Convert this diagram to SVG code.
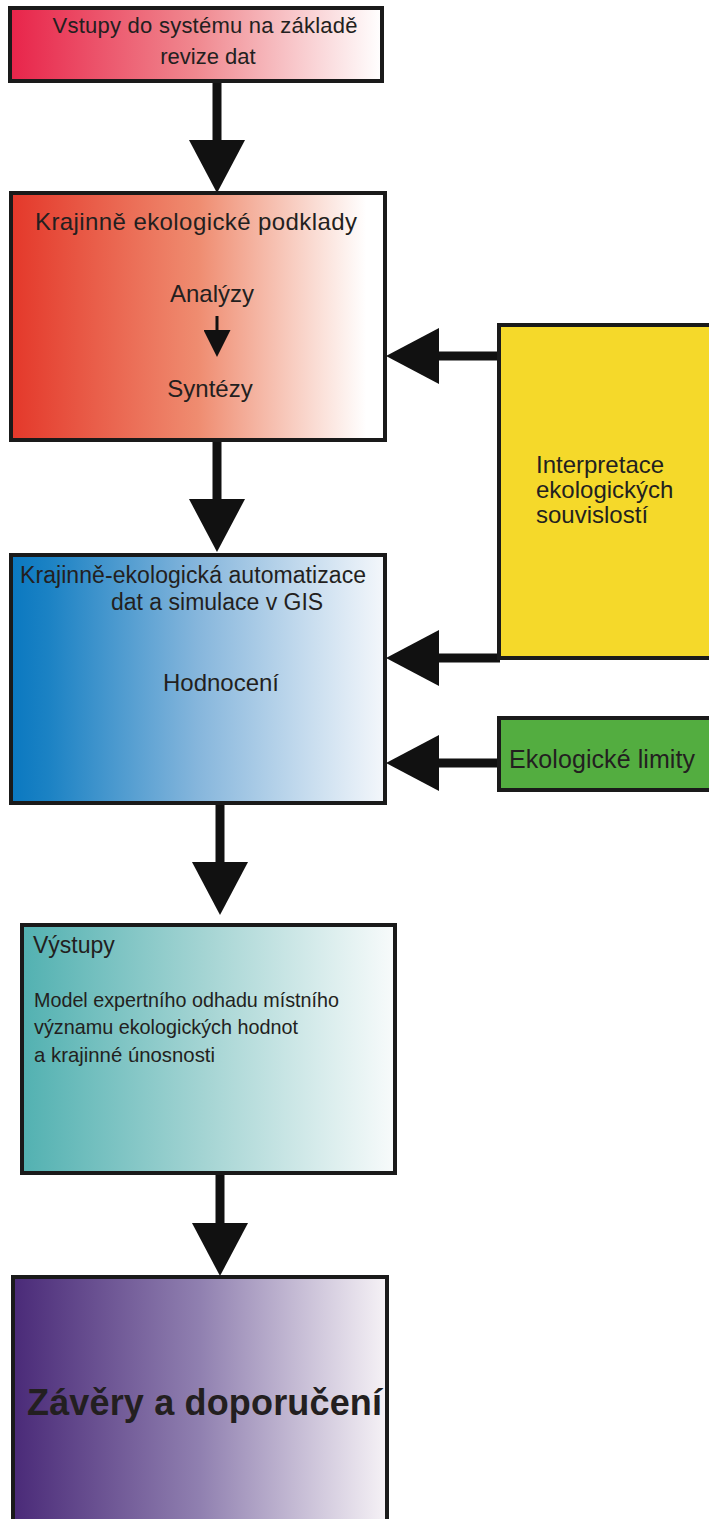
<svg xmlns="http://www.w3.org/2000/svg" width="709" height="1519" viewBox="0 0 709 1519">
<defs>
<style>
.box{stroke:#1a1a1a;stroke-width:4}
.t{font-family:"Liberation Sans",Arial,sans-serif;fill:#231f20}
.c{text-anchor:middle}
.conn{stroke:#111;stroke-width:9;fill:none}
</style>
<linearGradient id="g1" x1="0" y1="0" x2="1" y2="0"><stop offset="0" stop-color="#e8244a"/><stop offset="0.5" stop-color="#f0888f"/><stop offset="1" stop-color="#ffffff"/></linearGradient>
<linearGradient id="g2" x1="0" y1="0" x2="1" y2="0"><stop offset="0" stop-color="#e4382a"/><stop offset="0.5" stop-color="#ef8c70"/><stop offset="0.95" stop-color="#ffffff"/></linearGradient>
<linearGradient id="g3" x1="0" y1="0" x2="1" y2="0"><stop offset="0" stop-color="#0a78c0"/><stop offset="0.1" stop-color="#1b82c4"/><stop offset="0.5" stop-color="#86b6dc"/><stop offset="1" stop-color="#f4f7fb"/></linearGradient>
<linearGradient id="g4" x1="0" y1="0" x2="1" y2="0"><stop offset="0" stop-color="#52b1b1"/><stop offset="0.5" stop-color="#a6d5d4"/><stop offset="1" stop-color="#f8fbfb"/></linearGradient>
<linearGradient id="g5" x1="0" y1="0" x2="1" y2="0"><stop offset="0" stop-color="#4a2a78"/><stop offset="0.5" stop-color="#9080b0"/><stop offset="1" stop-color="#f6f2f6"/></linearGradient>
<marker id="ah" markerUnits="userSpaceOnUse" viewBox="0 0 53 56" markerWidth="53" markerHeight="56" refX="0" refY="28" orient="auto"><path d="M0,0 L53,28 L0,56 Z" fill="#111"/></marker>
<marker id="ahs" markerUnits="userSpaceOnUse" viewBox="0 0 27 27" markerWidth="27" markerHeight="27" refX="0" refY="13.5" orient="auto"><path d="M0,0 L27,13.5 L0,27 Z" fill="#111"/></marker>
</defs>
<rect width="709" height="1519" fill="#ffffff"/>
<g id="connectors">
<line class="conn" x1="217" y1="81" x2="217" y2="140" marker-end="url(#ah)"/>
<line class="conn" x1="217" y1="441" x2="217" y2="499" marker-end="url(#ah)"/>
<line class="conn" x1="220" y1="803" x2="220" y2="862" marker-end="url(#ah)"/>
<line class="conn" x1="220" y1="1173" x2="220" y2="1223" marker-end="url(#ah)"/>
<line class="conn" x1="500" y1="356" x2="439" y2="356" marker-end="url(#ah)"/>
<line class="conn" x1="500" y1="658" x2="439" y2="658" marker-end="url(#ah)"/>
<line class="conn" x1="500" y1="763" x2="439" y2="763" marker-end="url(#ah)"/>
</g>
<g id="n1">
<rect class="box" x="10" y="8" width="372" height="73" fill="url(#g1)"/>
<text class="t c" x="205" y="33" font-size="22" textLength="305">Vstupy do systému na základě</text>
<text class="t c" x="208" y="64" font-size="22">revize dat</text>
</g>
<g id="n2">
<rect class="box" x="11" y="193" width="374" height="247" fill="url(#g2)"/>
<text class="t c" x="196" y="230" font-size="24" textLength="322">Krajinně ekologické podklady</text>
<text class="t c" x="212" y="302" font-size="24">Analýzy</text>
<line x1="217" y1="316" x2="217" y2="330" stroke="#111" stroke-width="3" marker-end="url(#ahs)"/>
<text class="t c" x="210" y="397" font-size="24">Syntézy</text>
</g>
<g id="n3">
<rect class="box" x="11" y="555" width="374" height="248" fill="url(#g3)"/>
<text class="t" x="20" y="583" font-size="23" textLength="346">Krajinně-ekologická automatizace</text>
<text class="t" x="111" y="610" font-size="23">dat a simulace v GIS</text>
<text class="t c" x="221" y="691" font-size="24">Hodnocení</text>
</g>
<g id="n-interp">
<rect class="box" x="499" y="325" width="214" height="333" fill="#f5d92a"/>
<text class="t" x="536" y="473" font-size="24">Interpretace</text>
<text class="t" x="536" y="498" font-size="24">ekologických</text>
<text class="t" x="536" y="523" font-size="24">souvislostí</text>
</g>
<g id="n-limity">
<rect class="box" x="499" y="718" width="214" height="72" fill="#53ad40"/>
<text class="t" x="509" y="768" font-size="25" textLength="186">Ekologické limity</text>
</g>
<g id="n4">
<rect class="box" x="22" y="925" width="373" height="248" fill="url(#g4)"/>
<text class="t" x="33" y="953" font-size="23">Výstupy</text>
<text class="t" x="34" y="1007" font-size="21" textLength="305" lengthAdjust="spacingAndGlyphs">Model expertního odhadu místního</text>
<text class="t" x="34" y="1034" font-size="21" textLength="264" lengthAdjust="spacingAndGlyphs">významu ekologických hodnot</text>
<text class="t" x="34" y="1062" font-size="21" textLength="181" lengthAdjust="spacingAndGlyphs">a krajinné únosnosti</text>
</g>
<g id="n5">
<rect class="box" x="13" y="1277" width="374" height="250" fill="url(#g5)"/>
<text class="t" x="27" y="1415" font-size="36" font-weight="bold" textLength="355">Závěry a doporučení</text>
</g>
</svg>
